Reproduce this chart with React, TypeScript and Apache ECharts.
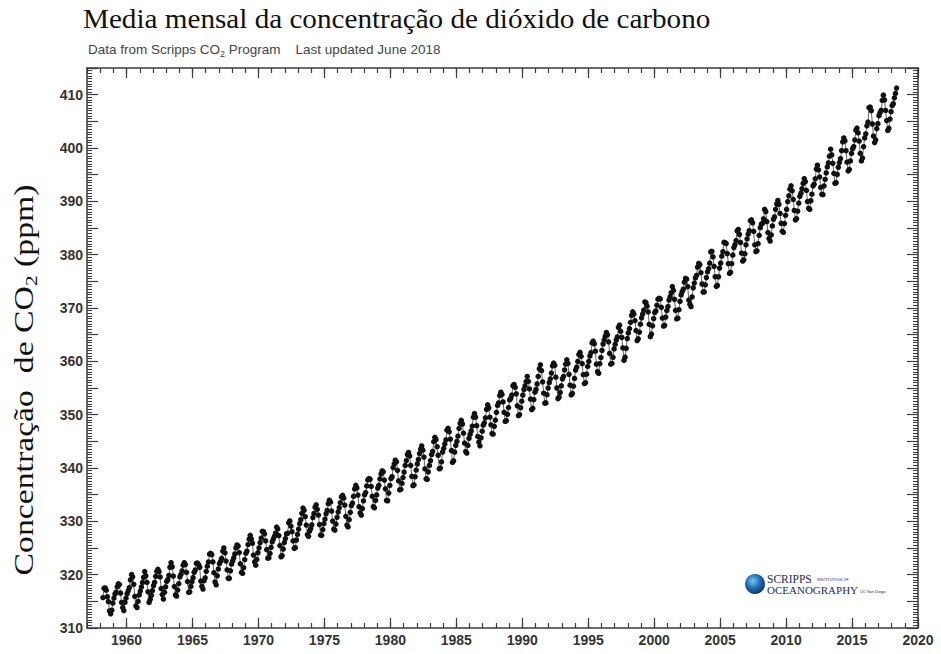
import React, { useEffect, useRef } from "react";
import * as echarts from "echarts";

// Monthly mean CO2 (ppm); 1958 starts in March
const co2_1958 = [315.71, 317.45, 317.5, 317.1, 315.86, 314.93, 313.2, 312.66, 313.33, 314.67];
const co2_1959_1969 = [
  [315.62, 316.38, 316.71, 317.72, 318.29, 318.15, 316.54, 314.8, 313.84, 313.26, 314.8, 315.58],
  [316.43, 316.97, 317.58, 319.02, 320.03, 319.59, 318.18, 315.91, 314.16, 313.83, 315.0, 316.19],
  [316.93, 317.7, 318.54, 319.48, 320.58, 319.77, 318.57, 316.79, 314.8, 315.38, 316.1, 317.01],
  [317.94, 318.56, 319.68, 320.63, 321.01, 320.55, 319.58, 317.4, 316.26, 315.42, 316.69, 317.69],
  [318.74, 319.08, 319.86, 321.39, 322.25, 321.47, 319.74, 317.77, 316.21, 315.99, 317.12, 318.31],
  [319.57, 320.07, 320.73, 321.77, 322.25, 321.89, 320.44, 318.7, 316.7, 316.79, 317.79, 318.71],
  [319.44, 320.44, 320.89, 322.13, 322.16, 321.87, 321.39, 318.81, 317.81, 317.3, 318.87, 319.42],
  [320.62, 321.59, 322.39, 323.87, 324.01, 323.75, 322.39, 320.37, 318.64, 318.1, 319.79, 321.08],
  [322.07, 322.5, 323.04, 324.42, 325.0, 324.09, 322.55, 320.92, 319.31, 319.31, 320.72, 321.96],
  [322.57, 323.15, 323.89, 325.02, 325.57, 325.36, 324.14, 322.03, 320.41, 320.25, 321.31, 322.84],
  [324.0, 324.42, 325.64, 326.66, 327.38, 326.7, 325.89, 323.67, 322.38, 321.78, 322.85, 324.11],
];
const co2_1970s = [
  [325.03, 325.99, 326.87, 328.13, 328.07, 327.66, 326.35, 324.69, 323.1, 323.16, 323.98, 325.13],
  [326.17, 326.68, 327.18, 327.78, 328.92, 328.57, 327.34, 325.46, 323.36, 323.57, 324.8, 326.01],
  [326.77, 327.63, 327.75, 329.72, 330.07, 329.09, 328.05, 326.32, 324.93, 325.06, 326.5, 327.55],
  [328.54, 329.56, 330.3, 331.5, 332.48, 332.07, 330.87, 329.31, 327.51, 327.18, 328.16, 328.64],
  [329.35, 330.71, 331.48, 332.65, 333.09, 332.25, 331.18, 329.4, 327.43, 327.37, 328.46, 329.57],
  [330.4, 331.4, 332.04, 333.31, 333.96, 333.59, 331.91, 330.06, 328.56, 328.34, 329.49, 330.76],
  [331.75, 332.56, 333.5, 334.58, 334.87, 334.34, 333.05, 330.94, 329.3, 328.94, 330.31, 331.68],
  [332.93, 333.42, 334.7, 336.07, 336.74, 336.27, 334.93, 332.75, 331.58, 331.16, 332.4, 333.85],
  [334.97, 335.39, 336.64, 337.76, 338.01, 337.89, 336.54, 334.68, 332.76, 332.54, 333.92, 334.95],
  [336.23, 336.76, 337.96, 338.89, 339.47, 339.29, 337.73, 336.09, 333.91, 333.86, 335.29, 336.73],
];
const co2_1980s = [
  [338.01, 338.36, 340.08, 340.77, 341.46, 341.17, 339.56, 337.6, 335.88, 336.01, 337.1, 338.21],
  [339.23, 340.47, 341.38, 342.51, 342.91, 342.25, 340.49, 338.43, 336.69, 336.85, 338.36, 339.61],
  [340.75, 341.61, 342.7, 343.56, 344.13, 343.35, 342.06, 339.82, 337.97, 337.86, 339.26, 340.49],
  [341.38, 342.52, 343.1, 344.94, 345.75, 345.32, 343.99, 342.39, 339.86, 339.99, 341.16, 342.99],
  [343.7, 344.51, 345.28, 347.08, 347.43, 346.79, 345.4, 343.28, 341.07, 341.35, 342.98, 344.22],
  [344.97, 345.99, 347.42, 348.35, 348.93, 348.25, 346.56, 344.67, 343.09, 342.8, 344.24, 345.56],
  [346.29, 346.96, 347.86, 349.55, 350.21, 349.54, 347.94, 345.91, 344.86, 344.17, 345.66, 346.9],
  [348.02, 348.47, 349.42, 350.99, 351.84, 351.25, 349.52, 348.1, 346.44, 346.36, 347.81, 348.96],
  [350.43, 351.72, 352.22, 353.59, 354.22, 353.79, 352.39, 350.44, 348.72, 348.88, 350.07, 351.34],
  [352.76, 353.07, 353.68, 355.42, 355.67, 355.13, 353.9, 351.67, 349.8, 349.99, 351.3, 352.53],
];
const co2_1990s = [
  [353.66, 354.7, 355.39, 356.2, 357.16, 356.22, 354.82, 352.91, 350.96, 351.18, 352.83, 354.21],
  [354.72, 355.75, 357.16, 358.6, 359.34, 358.24, 356.17, 354.03, 352.16, 352.21, 353.75, 354.99],
  [355.99, 356.72, 357.81, 359.15, 359.66, 359.25, 357.02, 355.0, 353.01, 353.31, 354.16, 355.4],
  [356.7, 357.16, 358.38, 359.46, 360.28, 359.6, 357.57, 355.52, 353.7, 353.98, 355.33, 356.8],
  [358.36, 358.91, 359.97, 361.26, 361.68, 360.95, 359.55, 357.49, 355.84, 355.99, 357.58, 359.04],
  [359.97, 361.0, 361.64, 363.45, 363.79, 363.26, 361.9, 359.46, 358.06, 357.75, 359.56, 360.7],
  [362.05, 363.25, 364.03, 364.72, 365.41, 364.97, 363.65, 361.49, 359.46, 359.6, 360.76, 362.33],
  [363.18, 364.0, 364.57, 366.35, 366.79, 365.62, 364.47, 362.51, 360.19, 360.77, 362.43, 364.28],
  [365.32, 366.15, 367.31, 368.61, 369.29, 368.87, 367.64, 365.77, 363.9, 364.23, 365.46, 366.97],
  [368.15, 368.87, 369.59, 371.14, 371.0, 370.35, 369.27, 366.94, 364.63, 365.12, 366.67, 368.01],
];
const co2_2000s = [
  [369.14, 369.46, 370.52, 371.66, 371.82, 371.7, 370.12, 368.12, 366.62, 366.73, 368.29, 369.53],
  [370.28, 371.5, 372.12, 372.87, 374.02, 373.3, 371.62, 369.55, 367.96, 368.09, 369.68, 371.24],
  [372.44, 373.08, 373.52, 374.85, 375.55, 375.4, 374.02, 371.48, 370.71, 370.25, 372.08, 373.78],
  [374.68, 375.63, 376.11, 377.65, 378.35, 378.13, 376.62, 374.5, 372.99, 373.01, 374.35, 375.7],
  [376.79, 377.37, 378.41, 380.52, 380.63, 379.57, 377.79, 375.86, 374.06, 374.24, 375.86, 377.48],
  [378.41, 379.72, 380.55, 382.3, 382.27, 382.09, 380.2, 378.3, 376.47, 376.68, 378.3, 379.91],
  [381.34, 381.86, 382.64, 384.44, 384.73, 383.78, 382.28, 380.31, 378.81, 379.03, 380.17, 381.85],
  [382.94, 383.86, 384.49, 386.37, 386.54, 385.98, 384.35, 381.85, 380.58, 380.73, 382.06, 383.63],
  [385.07, 385.72, 385.85, 386.71, 388.49, 388.06, 386.21, 384.14, 383.05, 382.55, 383.7, 385.39],
  [386.64, 387.1, 388.5, 389.5, 390.17, 389.44, 387.73, 385.88, 384.38, 384.19, 385.84, 387.38],
];
const co2_2010s = [
  [388.49, 389.94, 391.03, 392.27, 392.9, 391.98, 390.36, 388.29, 386.52, 386.74, 388.15, 389.65],
  [390.93, 391.52, 392.37, 393.35, 394.24, 393.71, 392.04, 389.96, 388.66, 388.51, 390.11, 391.33],
  [392.9, 393.22, 394.23, 396.05, 396.77, 395.91, 394.58, 392.6, 391.31, 391.24, 392.88, 394.1],
  [395.33, 396.45, 397.21, 398.47, 399.77, 398.71, 397.12, 395.23, 393.39, 393.49, 395.05, 396.39],
  [397.27, 397.99, 399.51, 401.15, 401.89, 401.35, 399.5, 397.33, 395.71, 395.98, 397.57, 398.97],
  [399.87, 400.27, 401.51, 403.33, 403.73, 402.82, 401.3, 398.99, 397.57, 398.11, 400.24, 401.88],
  [402.65, 404.16, 404.85, 407.57, 407.66, 407.0, 404.5, 402.24, 401.01, 401.5, 403.64, 404.55],
  [406.07, 406.64, 407.05, 408.95, 409.91, 409.01, 407.04, 405.15, 403.29, 403.69, 405.42, 406.81],
  [407.96, 408.32, 409.41, 410.24, 411.24],
];

const xMajorTicks = [1960, 1965, 1970, 1975, 1980, 1985, 1990, 1995, 2000, 2005, 2010, 2015, 2020];
const xMinorTicks = [
  1957, 1958, 1959, 1960, 1961, 1962, 1963, 1964, 1965, 1966, 1967, 1968, 1969, 1970, 1971, 1972,
  1973, 1974, 1975, 1976, 1977, 1978, 1979, 1980, 1981, 1982, 1983, 1984, 1985, 1986, 1987, 1988,
  1989, 1990, 1991, 1992, 1993, 1994, 1995, 1996, 1997, 1998, 1999, 2000, 2001, 2002, 2003, 2004,
  2005, 2006, 2007, 2008, 2009, 2010, 2011, 2012, 2013, 2014, 2015, 2016, 2017, 2018, 2019, 2020,
];

function buildData(): [number, number][] {
  const out: [number, number][] = [];
  co2_1958.forEach((v, i) => out.push([1958 + (i + 2 + 0.5) / 12, v]));
  const blocks: [number, number[][]][] = [
    [1959, co2_1959_1969],
    [1970, co2_1970s],
    [1980, co2_1980s],
    [1990, co2_1990s],
    [2000, co2_2000s],
    [2010, co2_2010s],
  ];
  blocks.forEach(([start, years]) => {
    years.forEach((months, yi) => {
      months.forEach((v, m) => out.push([start + yi + (m + 0.5) / 12, v]));
    });
  });
  return out;
}

const AXIS_COLOR = "#3a3a3a";
const LABEL_COLOR = "#333";

export default function App() {
  const ref = useRef<HTMLDivElement>(null);
  useEffect(() => {
    if (!ref.current) return;
    const chart = echarts.init(ref.current, null, { renderer: "svg" });
    const grid = { left: 87, top: 68, right: 23, bottom: 26 };
    const xBase = (pos: "bottom" | "top", ticks: number[], len: number, labels: boolean, line: boolean) => ({
      type: "value",
      position: pos,
      min: 1957,
      max: 2020,
      axisLine: { show: line, onZero: false, lineStyle: { color: AXIS_COLOR, width: 1.5 } },
      axisTick: { show: true, inside: true, length: len, customValues: ticks, lineStyle: { color: AXIS_COLOR, width: 1.2 } },
      axisLabel: labels
        ? {
            show: true,
            customValues: xMajorTicks,
            formatter: (v: number) => String(v),
            color: LABEL_COLOR,
            fontWeight: "bold",
            fontSize: 14,
            fontFamily: "Liberation Sans, Arial, sans-serif",
            margin: 5,
          }
        : { show: false },
      splitLine: { show: false },
    });
    const yBase = (pos: "left" | "right", labels: boolean) => ({
      type: "value",
      position: pos,
      min: 310,
      max: 415,
      interval: 5,
      axisLine: { show: true, onZero: false, lineStyle: { color: AXIS_COLOR, width: 1.5 } },
      axisTick: { show: true, inside: true, length: 11, lineStyle: { color: AXIS_COLOR, width: 1.2 } },
      minorTick: { show: true, splitNumber: 10, length: 5, lineStyle: { color: AXIS_COLOR, width: 1 } },
      axisLabel: labels
        ? {
            show: true,
            color: LABEL_COLOR,
            fontWeight: "bold",
            fontSize: 14,
            fontFamily: "Liberation Sans, Arial, sans-serif",
            margin: 4,
            formatter: (v: number) => (v % 10 === 0 ? String(v) : ""),
          }
        : { show: false },
      splitLine: { show: false },
      minorSplitLine: { show: false },
    });

    chart.setOption({
      animation: false,
      backgroundColor: "#fff",
      grid: { ...grid, containLabel: false },
      xAxis: [
        xBase("bottom", xMajorTicks, 10, true, true),
        xBase("bottom", xMinorTicks, 5, false, false),
        xBase("top", xMajorTicks, 10, false, true),
        xBase("top", xMinorTicks, 5, false, false),
      ],
      yAxis: [yBase("left", true), yBase("right", false)],
      series: [
        {
          type: "line",
          data: buildData(),
          xAxisIndex: 0,
          yAxisIndex: 0,
          symbol: "circle",
          symbolSize: 5.5,
          showSymbol: true,
          itemStyle: { color: "#111" },
          lineStyle: { color: "#666", width: 1 },
        },
      ],
      graphic: [
        {
          type: "text",
          x: 83,
          y: 5,
          scaleX: 1.08,
          style: {
            text: "Media mensal da concentração de dióxido de carbono",
            font: "27px 'Liberation Serif', 'Times New Roman', serif",
            fill: "#111",
          },
        },
        {
          type: "text",
          x: 88,
          y: 40,
          style: {
            text: "Data from Scripps CO{sub|2} Program    Last updated June 2018",
            font: "13.5px 'Liberation Sans', Arial, sans-serif",
            fill: "#444",
            rich: {
              sub: { fontSize: 9, fill: "#444", padding: [9, 0, 0, 0], fontFamily: "Liberation Sans, Arial, sans-serif" },
            },
          },
        },
        {
          type: "text",
          x: 24,
          y: 380,
          rotation: Math.PI / 2,
          scaleX: 1.25,
          style: {
            text: "Concentração  de CO{sub|2} (ppm)",
            font: "27px 'Liberation Serif', 'Times New Roman', serif",
            fill: "#111",
            align: "center",
            verticalAlign: "middle",
            rich: {
              sub: { fontSize: 17, fill: "#111", padding: [14, 0, 0, 0], fontFamily: "Liberation Serif, Times New Roman, serif" },
            },
          },
        },
        {
          type: "group",
          children: [
            {
              type: "circle",
              shape: { cx: 755, cy: 584, r: 10 },
              style: {
                fill: new echarts.graphic.RadialGradient(0.4, 0.35, 0.7, [
                  { offset: 0, color: "#7fc7f2" },
                  { offset: 0.5, color: "#1f6fb5" },
                  { offset: 1, color: "#0d2f66" },
                ]),
              },
            },
            {
              type: "text",
              x: 767,
              y: 574,
              style: { text: "SCRIPPS", font: "11.5px 'Liberation Serif', serif", lineHeight: 10, fill: "#1b2c5c" },
            },
            {
              type: "text",
              x: 817,
              y: 577,
              style: { text: "INSTITUTION OF", font: "4px 'Liberation Sans', sans-serif", lineHeight: 5, fill: "#1b2c5c" },
            },
            {
              type: "text",
              x: 767,
              y: 585,
              style: { text: "OCEANOGRAPHY", font: "11px 'Liberation Serif', serif", lineHeight: 10, fill: "#1b2c5c" },
            },
            {
              type: "text",
              x: 860,
              y: 589,
              style: { text: "UC San Diego", font: "4px 'Liberation Sans', sans-serif", lineHeight: 5, fill: "#1b2c5c" },
            },
          ],
        },
      ],
    });
    return () => chart.dispose();
  }, []);
  return <div ref={ref} style={{ position: "fixed", left: 0, top: 0, width: 941, height: 654 }} />;
}
